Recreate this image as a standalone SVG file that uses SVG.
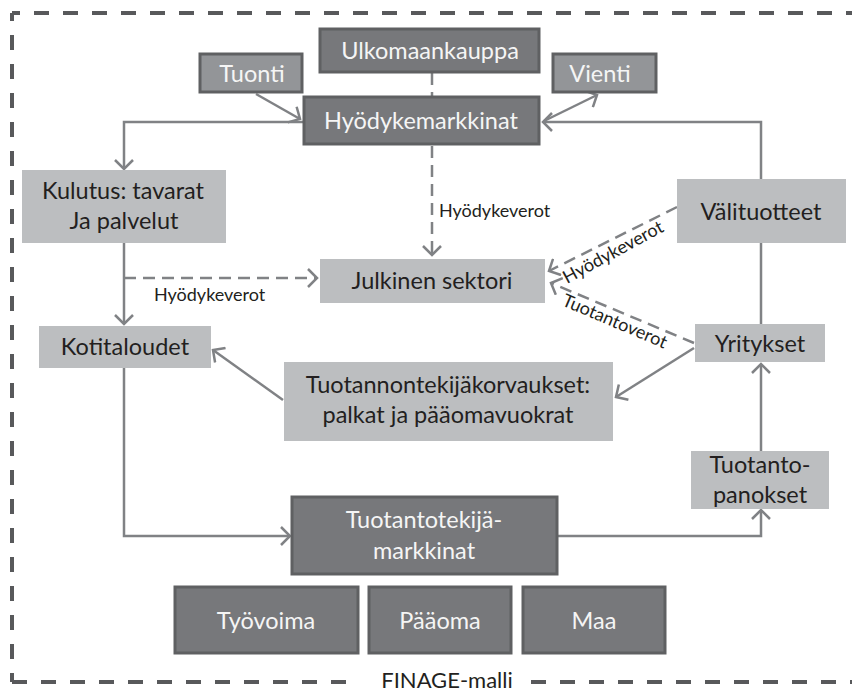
<svg xmlns="http://www.w3.org/2000/svg" width="852" height="693" viewBox="0 0 852 693">
<defs>
<marker id="arr" viewBox="-1 -10 12 20" refX="9" refY="0" markerWidth="12" markerHeight="20" markerUnits="userSpaceOnUse" orient="auto">
<path d="M0,-9 L9,0 L0,9" fill="none" stroke="#808285" stroke-width="2.5"/>
</marker>
</defs>
<style>
.light{fill:#bcbec0;}
.dark{fill:#77787b;stroke:#5f6062;stroke-width:3;}
.mid{fill:#939598;stroke:#5f6062;stroke-width:3;}
.t{font-family:Lato,"Open Sans",sans-serif;font-size:23.5px;fill:#231f20;text-anchor:middle;}
.w{font-family:Lato,"Open Sans",sans-serif;font-size:23.5px;fill:#f5f5f5;text-anchor:middle;}
.s{font-family:Lato,"Open Sans",sans-serif;font-size:18px;fill:#231f20;}
.c{fill:none;stroke:#808285;stroke-width:2.5;}
.d{fill:none;stroke:#808285;stroke-width:2.5;stroke-dasharray:12 7;}
.b{fill:none;stroke:#58595b;stroke-width:4;stroke-dasharray:15 14;}
.cap{font-family:Lato,"Open Sans",sans-serif;font-size:22px;fill:#231f20;text-anchor:middle;}
</style>
<g id="frame">
<path class="b" d="M12,13 H852" stroke-dashoffset="7"/>
<path class="b" d="M12,13 V682" stroke-dashoffset="7"/>
<path class="b" d="M12,682 H360"/>
<path class="b" d="M531,682 H852"/>
<text class="cap" x="447" y="688">FINAGE-malli</text>
</g>
<g id="connectors">
<path class="d" d="M432,73 V96"/>
<path class="d" d="M432,146 V255" marker-end="url(#arr)"/>
<path class="c" d="M256,94 L300,119" marker-end="url(#arr)"/>
<path class="c" d="M544,121 L597,95" marker-end="url(#arr)"/>
<path class="c" d="M761,324 V122 H543" marker-end="url(#arr)"/>
<path class="c" d="M303,122 H124 V169" marker-end="url(#arr)"/>
<path class="c" d="M124,243 V324" marker-end="url(#arr)"/>
<path class="d" d="M124,278 H317" marker-end="url(#arr)"/>
<path class="c" d="M124,368 V536 H290" marker-end="url(#arr)"/>
<path class="c" d="M558,536 H761 V510" marker-end="url(#arr)"/>
<path class="c" d="M761,451 V364" marker-end="url(#arr)"/>
<path class="c" d="M694,348 L616,397" marker-end="url(#arr)"/>
<path class="c" d="M283,400 L213,350" marker-end="url(#arr)"/>
<path class="d" d="M677,207 L549,271" marker-end="url(#arr)"/>
<path class="d" d="M694,343 L551,283" marker-end="url(#arr)"/>
<text class="s" x="439" y="217">Hyödykeverot</text>
<text class="s" x="154" y="301">Hyödykeverot</text>
<text class="s" transform="translate(567,284) rotate(-28.5)">Hyödykeverot</text>
<text class="s" transform="translate(561,305) rotate(23)">Tuotantoverot</text>
</g>
<g id="ulkomaankauppa">
<rect class="dark" x="320" y="29" width="219" height="43"/>
<text class="w" x="430" y="59">Ulkomaankauppa</text>
</g>
<g id="tuonti">
<rect class="mid" x="200" y="54" width="102" height="38"/>
<text class="w" x="252" y="82">Tuonti</text>
</g>
<g id="vienti">
<rect class="mid" x="553" y="54" width="103" height="38"/>
<text class="w" x="600" y="82">Vienti</text>
</g>
<g id="hyodykemarkkinat">
<rect class="dark" x="304" y="97" width="235" height="47"/>
<text class="w" x="421" y="129">Hyödykemarkkinat</text>
</g>
<g id="kulutus">
<rect class="light" x="22" y="170" width="204" height="73"/>
<text class="t" x="123" y="199">Kulutus: tavarat</text>
<text class="t" x="124" y="229">Ja palvelut</text>
</g>
<g id="julkinen">
<rect class="light" x="320" y="259" width="225" height="44"/>
<text class="t" x="432" y="289">Julkinen sektori</text>
</g>
<g id="valituotteet">
<rect class="light" x="677" y="179" width="169" height="64"/>
<text class="t" x="761" y="220">Välituotteet</text>
</g>
<g id="kotitaloudet">
<rect class="light" x="39" y="326" width="172" height="42"/>
<text class="t" x="125" y="355">Kotitaloudet</text>
</g>
<g id="yritykset">
<rect class="light" x="695" y="324" width="130" height="38"/>
<text class="t" x="760" y="352">Yritykset</text>
</g>
<g id="korvaukset">
<rect class="light" x="284" y="362" width="329" height="79"/>
<text class="t" x="448" y="393">Tuotannontekijäkorvaukset:</text>
<text class="t" x="448" y="423">palkat ja pääomavuokrat</text>
</g>
<g id="tuotantopanokset">
<rect class="light" x="691" y="451" width="138" height="58"/>
<text class="t" x="760" y="473">Tuotanto-</text>
<text class="t" x="760" y="503">panokset</text>
</g>
<g id="tuotantotekijamarkkinat">
<rect class="dark" x="292" y="497" width="265" height="77"/>
<text class="w" x="424" y="528">Tuotantotekijä-</text>
<text class="w" x="424" y="559">markkinat</text>
</g>
<g id="tyovoima">
<rect class="dark" x="175" y="587" width="183" height="66"/>
<text class="w" x="266" y="629">Työvoima</text>
</g>
<g id="paaoma">
<rect class="dark" x="369" y="587" width="142" height="66"/>
<text class="w" x="440" y="629">Pääoma</text>
</g>
<g id="maa">
<rect class="dark" x="523" y="587" width="142" height="66"/>
<text class="w" x="594" y="629">Maa</text>
</g>
</svg>
